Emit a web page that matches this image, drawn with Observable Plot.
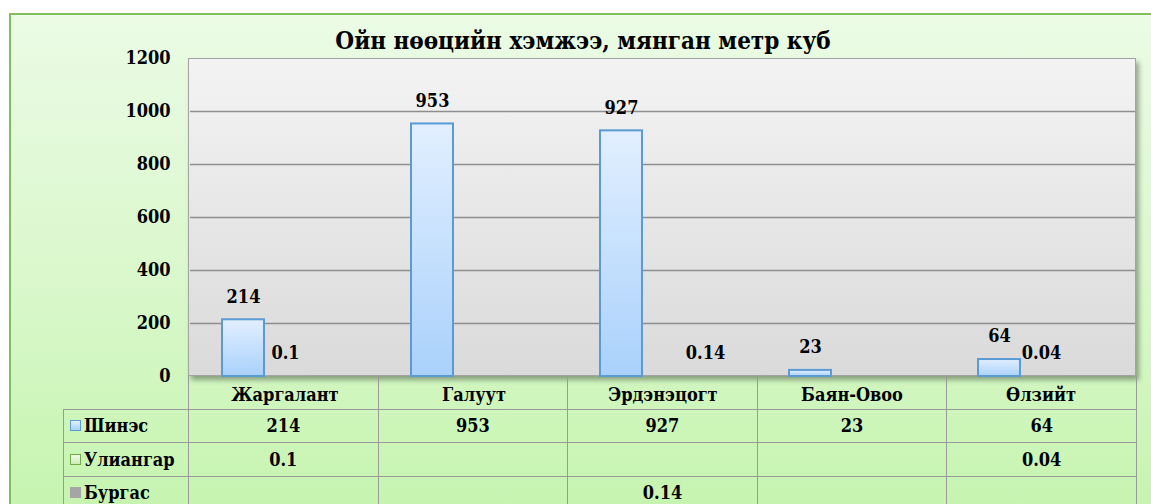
<!DOCTYPE html>
<html>
<head>
<meta charset="utf-8">
<script src="https://cdn.jsdelivr.net/npm/d3@7"></script>
<script src="https://cdn.jsdelivr.net/npm/@observablehq/plot@0.6"></script>
<style>
  html, body { margin: 0; padding: 0; background: #fff; }
  body { width: 1151px; height: 504px; overflow: hidden; position: relative; }
  #frame { position: absolute; left: 9px; top: 13px; width: 1160px; height: 520px;
    border: 2px solid #80bd5f; box-sizing: border-box;
    background: linear-gradient(#ebfbe5 0%, #dcf8cf 45%, #c4f4ad 100%); }
  #plotbg { position: absolute; left: 188px; top: 58px; width: 948px; height: 318px;
    box-sizing: border-box; border: 1.5px solid #a3a3a3;
    background: linear-gradient(#f3f3f3, #dadada);
    box-shadow: 3px 4px 5px rgba(0,0,0,0.35); }
  #title { position: absolute; top: 26px; left: 583px; transform: translateX(-50%);
    font-family: "DejaVu Serif", serif; font-stretch: condensed; font-weight: bold; font-size: 24px; white-space: nowrap; color: #000; }
  #tbl { position: absolute; left: 63px; top: 376px; border-collapse: collapse; table-layout: fixed;
    font-family: "DejaVu Serif", serif; font-stretch: condensed; font-weight: bold; font-size: 18px; color: #000; }
  #tbl td { border: 1.5px solid #9a9a9a; text-align: center; padding: 0; overflow: hidden; white-space: nowrap; }
  #tbl tr.head td { border-top: none; }
  #tbl tr.head td.blank { border: none; border-right: 1.5px solid #9a9a9a; }
  #tbl td.name { text-align: left; padding-left: 6px; }
  .sw { display: inline-block; width: 9px; height: 9px; margin-right: 3px; vertical-align: 1px; box-sizing: content-box; }
  #chart { position: absolute; left: 0; top: 0; }
  #chart svg { font-stretch: condensed; }
</style>
</head>
<body>
<div id="frame"></div>
<div id="plotbg"></div>
<div id="title"></div>
<table id="tbl"></table>
<div id="chart"></div>
<script>
const title = "Ойн нөөцийн хэмжээ, мянган метр куб";
const categories = ["Жаргалант", "Галуут", "Эрдэнэцогт", "Баян-Овоо", "Өлзийт"];
const seriesNames = ["Шинэс", "Улиангар", "Бургас"];
const shines = [214, 953, 927, 23, 64];
const uliangar = [0.1, null, null, null, 0.04];
const burgas = [null, null, 0.14, null, null];
const yTicks = [0, 200, 400, 600, 800, 1000, 1200];

const seriesValues = [shines, uliangar, burgas];
const seriesFill = ["url(#gBlue)", "url(#gGreen)", "#a5a5a5"];
const swatchStyle = [
  "background:linear-gradient(#e2efff,#a9d1fb);border:1.5px solid #5b9bd5;",
  "background:linear-gradient(#f2fbe9,#cdebb6);border:1.5px solid #70ad47;",
  "background:#a5a5a5;border:1.5px solid #a5a5a5;"
];

const data = [];
seriesNames.forEach((s, i) => {
  categories.forEach((c, j) => {
    const v = seriesValues[i][j];
    if (v !== null) data.push({series: s, cat: c, value: v, idx: i});
  });
});

document.getElementById("title").textContent = title;

const font = "'DejaVu Serif', serif";
const marks = [
  Plot.ruleY(yTicks.slice(1, -1), {stroke: "#8e8e8e", strokeWidth: 1.5})
];
seriesNames.forEach((s, i) => {
  marks.push(Plot.barY(data.filter(d => d.idx === i), {
    fx: "cat", x: "series", y: "value",
    fill: seriesFill[i],
    stroke: i === 0 ? "#5b9bd5" : "none",
    strokeWidth: 2
  }));
});
marks.push(Plot.text(data, {
  fx: "cat", x: "series", y: "value",
  text: d => String(d.value),
  dy: -23, fontSize: 18, fontWeight: "bold", fill: "#000"
}));

const chart = Plot.plot({
  width: 1151, height: 504,
  marginLeft: 188, marginRight: 15, marginTop: 58, marginBottom: 128,
  style: {background: "transparent", fontFamily: font, fontSize: "18px", fontWeight: "bold", color: "#000", overflow: "visible"},
  fx: {domain: categories, padding: 0, label: null, axis: "bottom", tickSize: 0, tickPadding: 12},
  x: {domain: seriesNames, paddingInner: 0, paddingOuter: 0.705, axis: null},
  y: {domain: [0, 1200], ticks: yTicks, tickFormat: d3.format("d"), tickSize: 0, tickPadding: 20, label: null},
  marks
});

const defs = d3.select(chart).insert("defs", ":first-child");
const gb = defs.append("linearGradient").attr("id", "gBlue").attr("x1", 0).attr("y1", 0).attr("x2", 0).attr("y2", 1);
gb.append("stop").attr("offset", "0%").attr("stop-color", "#e2efff");
gb.append("stop").attr("offset", "100%").attr("stop-color", "#a9d1fb");
const gg = defs.append("linearGradient").attr("id", "gGreen").attr("x1", 0).attr("y1", 0).attr("x2", 0).attr("y2", 1);
gg.append("stop").attr("offset", "0%").attr("stop-color", "#f2fbe9");
gg.append("stop").attr("offset", "100%").attr("stop-color", "#cdebb6");

document.getElementById("chart").appendChild(chart);

// data table below the chart
const tbl = d3.select("#tbl");
const cg = tbl.append("colgroup");
cg.append("col").style("width", "125px");
categories.forEach(() => cg.append("col").style("width", "189.6px"));
const head = tbl.append("tr").attr("class", "head").style("height", "33px");
head.append("td").attr("class", "blank");
categories.forEach(() => head.append("td"));
const rowHeights = [33, 34, 33];
seriesNames.forEach((s, i) => {
  const tr = tbl.append("tr").style("height", rowHeights[i] + "px");
  const nameCell = tr.append("td").attr("class", "name");
  nameCell.append("span").attr("class", "sw").attr("style", swatchStyle[i]);
  nameCell.append("span").text(s);
  seriesValues[i].forEach(v => tr.append("td").text(v === null ? "" : String(v)));
});
</script>
</body>
</html>
